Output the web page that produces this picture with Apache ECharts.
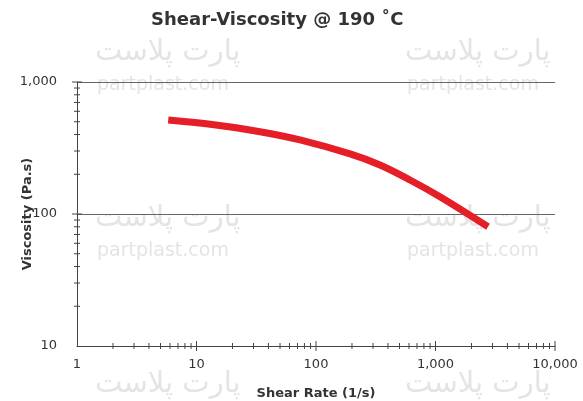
<!DOCTYPE html>
<html>
<head>
<meta charset="utf-8">
<script src="https://cdn.jsdelivr.net/npm/echarts@6/dist/echarts.min.js"></script>
<style>
  html, body { margin: 0; padding: 0; background: #fff; }
  #chart { width: 583px; height: 401px; }
</style>
</head>
<body>
<div id="chart"></div>
<script>
// shear rate (1/s) vs viscosity (Pa.s)
const shearRate = [5.8, 13, 34, 73.5, 193, 343, 612, 1090, 2750]
const viscosity = [515, 478, 420, 364, 285, 235, 181, 135, 80]

const xMajorTicks = [10, 100, 1000, 10000]
const xMinorTicks = [2, 3, 4, 5, 6, 7, 8, 9,
  20, 30, 40, 50, 60, 70, 80, 90,
  200, 300, 400, 500, 600, 700, 800, 900,
  2000, 3000, 4000, 5000, 6000, 7000, 8000, 9000]
const yMajorTicks = [100, 1000]
const yMinorTicks = [20, 30, 40, 50, 60, 70, 80, 90,
  200, 300, 400, 500, 600, 700, 800, 900]

const font = 'DejaVu Sans'
const axisColor = '#444'

const chart = echarts.init(document.getElementById('chart'))

// small crossing tick marks, drawn through the axis scales
const tickSeries = (data, horizontal, half) => ({
  type: 'custom',
  coordinateSystem: 'cartesian2d',
  silent: true,
  clip: false,
  z: 3,
  data: data,
  renderItem: (params, api) => {
    const p = api.coord([api.value(0), api.value(1)])
    const shape = horizontal
      ? { x1: p[0] - half, y1: p[1], x2: p[0] + half, y2: p[1] }
      : { x1: p[0], y1: p[1] - half, x2: p[0], y2: p[1] + half }
    return { type: 'line', shape: shape, style: { stroke: axisColor, lineWidth: 1 } }
  }
})

const wmText = (text, x, y, size) => ({
  type: 'text',
  x: x,
  y: y,
  z: -10,
  silent: true,
  style: { text: text, fill: '#e4e4e4', font: size + 'px "' + font + '"' }
})

const watermarks = []
;[[95, 38], [405, 38], [95, 204], [405, 204], [95, 370], [405, 370]].forEach(([x, y]) => {
  watermarks.push(wmText('پارت پلاست', x, y, 29))
  watermarks.push(wmText('partplast.com', x + 2, y + 38, 19))
})

const option = {
  animation: false,
  backgroundColor: '#fff',
  title: {
    text: 'Shear-Viscosity @ 190 ˚C',
    left: 146,
    top: 6,
    textStyle: { fontFamily: font, fontSize: 18, fontWeight: 'bold', color: '#333' }
  },
  graphic: watermarks,
  grid: { left: 77, right: 28, top: 82, bottom: 55, containLabel: false, outerBoundsMode: 'none' },
  xAxis: {
    type: 'log',
    logBase: 10,
    min: 1,
    max: 10000,
    name: 'Shear Rate (1/s)',
    nameLocation: 'middle',
    nameGap: 41,
    nameMoveOverlap: false,
    nameTextStyle: { fontFamily: font, fontSize: 13, fontWeight: 'bold', color: '#333' },
    axisLine: { show: true, lineStyle: { color: axisColor, width: 1 } },
    axisTick: { show: false },
    splitLine: { show: false },
    axisLabel: {
      margin: 12,
      fontFamily: font,
      fontSize: 13,
      color: '#333',
      formatter: v => Number(v).toLocaleString('en-US')
    }
  },
  yAxis: {
    type: 'log',
    logBase: 10,
    min: 10,
    max: 1000,
    name: 'Viscosity (Pa.s)',
    nameLocation: 'middle',
    nameGap: 43,
    nameMoveOverlap: false,
    nameTextStyle: { fontFamily: font, fontSize: 13, fontWeight: 'bold', color: '#333' },
    axisLine: { show: true, lineStyle: { color: axisColor, width: 1 } },
    axisTick: { show: false },
    splitLine: { show: true, lineStyle: { color: '#666', width: 1 } },
    axisLabel: {
      margin: 20,
      fontFamily: font,
      fontSize: 13,
      color: '#333',
      formatter: v => Number(v).toLocaleString('en-US')
    }
  },
  series: [
    {
      name: 'Viscosity',
      type: 'line',
      smooth: 0.35,
      showSymbol: false,
      z: 5,
      data: shearRate.map((x, i) => [x, viscosity[i]]),
      lineStyle: { color: '#e61e28', width: 7, cap: 'butt' }
    },
    tickSeries(xMinorTicks.map(v => [v, 10]), false, 3),
    tickSeries(xMajorTicks.map(v => [v, 10]), false, 5),
    tickSeries(yMinorTicks.map(v => [1, v]), true, 3),
    tickSeries(yMajorTicks.map(v => [1, v]), true, 5)
  ]
}

chart.setOption(option)
</script>
</body>
</html>
